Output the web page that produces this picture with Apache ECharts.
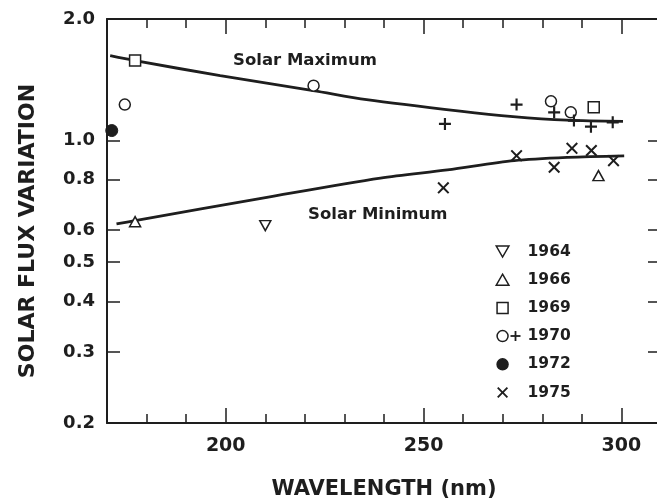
<!DOCTYPE html>
<html><head><meta charset="utf-8">
<script src="https://cdn.jsdelivr.net/npm/echarts@6/dist/echarts.min.js"></script>
<style>html,body{margin:0;padding:0;background:#fff}#c{width:657px;height:501px}</style>
</head><body><div id="c"></div>
<script>
// ---- data ----
const yTickValues = [0.2, 0.3, 0.4, 0.5, 0.6, 0.8, 1.0, 2.0];
const xMajorTicks = [200, 250, 300];
const legendYears = ['1964', '1966', '1969', '1970', '1972', '1975'];

const maxCurveX = [170.8, 177.1, 198.6, 222.1, 235.6, 259.2, 272.6, 286.2, 300.4];
const maxCurveY = [1.623, 1.578, 1.448, 1.330, 1.263, 1.183, 1.147, 1.124, 1.116];
const minCurveX = [172.4, 177.1, 210.4, 239.1, 256.0, 272.9, 286.4, 300.7];
const minCurveY = [0.622, 0.634, 0.724, 0.808, 0.846, 0.892, 0.909, 0.917];

const pts1964 = [[210.0, 0.616]];
const pts1966 = [[177.1, 0.630], [294.2, 0.819]];
const pts1969 = [[177.1, 1.578], [293.0, 1.209]];
const pts1970circle = [[174.5, 1.228], [222.2, 1.368], [282.2, 1.251], [287.2, 1.175]];
const pts1970plus = [[255.4, 1.10], [273.5, 1.228], [283.0, 1.175], [288.0, 1.121], [292.3, 1.083], [297.8, 1.110]];
const pts1972 = [[171.2, 1.059]];
const pts1975 = [[255.0, 0.764], [273.5, 0.918], [283.0, 0.859], [287.5, 0.957], [292.4, 0.945], [298.0, 0.892]];

// ---- styling ----
const INK = '#1e1e1e';
const FONT = 'DejaVu Sans';
const zip = (xs, ys) => xs.map((x, i) => [x, ys[i]]);
const PLUS = 'path://M4.1,0H5.9V4.1H10V5.9H5.9V10H4.1V5.9H0V4.1H4.1Z';
const CROSS = 'path://M0,1.2L1.2,0L5,3.8L8.8,0L10,1.2L6.2,5L10,8.8L8.8,10L5,6.2L1.2,10L0,8.8L3.8,5Z';
const DOWNTRI = 'path://M0,0L10,0L5,8.7Z';
const UPTRI = 'path://M5,0L10,8.7L0,8.7Z';
const SQUARE = 'path://M0,0H10V10H0Z';
const hollow = {color: '#fff', borderColor: INK, borderWidth: 1.5, opacity: 1};

function xAxisDef(pos, tickLen, custom, withLabels) {
  const a = {
    type: 'value', position: pos, min: 170, max: 310, interval: 10,
    axisLine: {show: !custom, onZero: false, lineStyle: {color: INK, width: 2}},
    axisTick: {show: true, inside: true, length: tickLen, lineStyle: {color: INK, width: 1.5}},
    axisLabel: {show: false},
    splitLine: {show: false}
  };
  if (custom) a.axisTick.customValues = xMajorTicks;
  if (withLabels) {
    a.axisLabel = {show: true, margin: 14, color: INK, fontFamily: FONT, fontWeight: 'bold', fontSize: 19,
      formatter: v => (xMajorTicks.indexOf(v) >= 0 ? String(v) : '')};
    a.name = 'WAVELENGTH (nm)';
    a.nameLocation = 'middle';
    a.nameGap = 56;
    a.nameTextStyle = {color: INK, fontFamily: FONT, fontWeight: 'bold', fontSize: 21};
  }
  return a;
}
function yAxisDef(pos, withLabels) {
  const a = {
    type: 'log', logBase: 10, position: pos, min: 0.2, max: 2.0,
    axisLine: {show: true, onZero: false, lineStyle: {color: INK, width: 2}},
    axisTick: {show: true, inside: true, length: 13, customValues: yTickValues, lineStyle: {color: INK, width: 1.5}},
    axisLabel: {show: false},
    minorTick: {show: false},
    splitLine: {show: false}
  };
  if (withLabels) {
    a.axisLabel = {show: true, customValues: yTickValues, margin: 12, color: INK, fontFamily: FONT, fontWeight: 'bold', fontSize: 18,
      formatter: v => Number(v).toFixed(1)};
    a.name = 'SOLAR FLUX VARIATION';
    a.nameLocation = 'middle';
    a.nameGap = 68;
    a.nameRotate = 90;
    a.nameTextStyle = {color: INK, fontFamily: FONT, fontWeight: 'bold', fontSize: 22, padding: [0, 20, 0, 0]};
  }
  return a;
}

const option = {
  backgroundColor: '#fff',
  animation: false,
  grid: {left: 107, right: -4, top: 19, bottom: 78, containLabel: false, outerBoundsMode: 'none'},
  xAxis: [
    xAxisDef('bottom', 9, false, true),
    xAxisDef('bottom', 15, true, false),
    xAxisDef('top', 9, false, false),
    xAxisDef('top', 15, true, false)
  ],
  yAxis: [yAxisDef('left', true), yAxisDef('right', false)],
  legend: {
    orient: 'vertical', left: 490.5, top: 238.5, itemWidth: 40, itemHeight: 11, itemGap: 12.2,
    selectedMode: false, symbolKeepAspect: true,
    itemStyle: {borderWidth: 1.5},
    textStyle: {color: INK, fontFamily: FONT, fontWeight: 'bold', fontSize: 15.5},
    data: legendYears.map(y => y === '1975' ? {name: y, itemStyle: {borderWidth: 0}} : {name: y})
  },
  graphic: [
    {type: 'text', x: 233, y: 61, style: {text: 'Solar Maximum', fill: INK, font: 'bold 16.5px "DejaVu Sans"', verticalAlign: 'middle'}},
    {type: 'text', x: 308, y: 215, style: {text: 'Solar Minimum', fill: INK, font: 'bold 16.5px "DejaVu Sans"', verticalAlign: 'middle'}},
    {type: 'rect', shape: {x: 510.5, y: 335.1, width: 10, height: 1.8}, style: {fill: INK}},
    {type: 'rect', shape: {x: 514.6, y: 331, width: 1.8, height: 10}, style: {fill: INK}}
  ],
  series: [
    {name: 'Solar Maximum', type: 'line', data: zip(maxCurveX, maxCurveY), smooth: 0.3, showSymbol: false, silent: true,
      lineStyle: {color: INK, width: 2.8}, z: 1},
    {name: 'Solar Minimum', type: 'line', data: zip(minCurveX, minCurveY), smooth: 0.3, showSymbol: false, silent: true,
      lineStyle: {color: INK, width: 2.8}, z: 1},
    {name: '1964', type: 'scatter', data: pts1964, symbol: DOWNTRI, symbolSize: [11, 10], itemStyle: hollow, z: 3},
    {name: '1966', type: 'scatter', data: pts1966, symbol: UPTRI, symbolSize: [11, 10], itemStyle: hollow, z: 3},
    {name: '1969', type: 'scatter', data: pts1969, symbol: SQUARE, symbolSize: 11, itemStyle: hollow, z: 3},
    {name: '1970', type: 'scatter', data: pts1970circle, symbol: 'circle', symbolSize: 11, itemStyle: hollow, z: 3},
    {name: '1970', type: 'scatter', data: pts1970plus, symbol: PLUS, symbolSize: 12, itemStyle: {color: INK, borderWidth: 0, opacity: 1}, z: 3},
    {name: '1972', type: 'scatter', data: pts1972, symbol: 'circle', symbolSize: 12, itemStyle: {color: INK, borderColor: INK, borderWidth: 1, opacity: 1}, z: 3},
    {name: '1975', type: 'scatter', data: pts1975, symbol: CROSS, symbolSize: 12, itemStyle: {color: INK, borderWidth: 0, opacity: 1}, z: 3}
  ]
};
const chart = echarts.init(document.getElementById('c'), null, {renderer: 'canvas'});
chart.setOption(option);
</script></body></html>
